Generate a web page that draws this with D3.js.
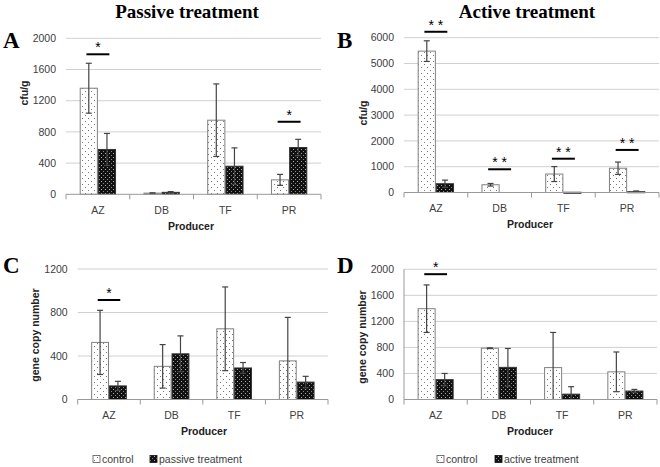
<!DOCTYPE html>
<html>
<head>
<meta charset="utf-8">
<script src="https://cdn.jsdelivr.net/npm/d3@7"></script>
<style>
  body { margin: 0; background: #fff; }
  svg { display: block; }
  .tick-label { font-family: "Liberation Sans", Arial, sans-serif; font-size: 10.5px; fill: #404040; }
  .axis-title { font-family: "Liberation Sans", Arial, sans-serif; font-size: 10.5px; font-weight: bold; fill: #222; }
  .panel-title { font-family: "Liberation Serif", "Times New Roman", serif; font-size: 19px; font-weight: bold; fill: #000; }
  .panel-letter { font-family: "Liberation Serif", "Times New Roman", serif; font-size: 23px; font-weight: bold; fill: #000; }
  .sig { font-family: "Liberation Sans", Arial, sans-serif; font-size: 14px; fill: #000; }
</style>
</head>
<body>
<svg id="chart" width="660" height="467"></svg>
<script>
// Categories and series values
const producers = ["AZ", "DB", "TF", "PR"];

// A: passive treatment, cfu/g
const passiveCfuControl = [1360, 15, 950, 185];
const passiveCfuControlErr = [320, 4, 465, 70];
const passiveCfuTreated = [575, 25, 360, 600];
const passiveCfuTreatedErr = [205, 10, 235, 105];

// B: active treatment, cfu/g
const activeCfuControl = [5480, 300, 715, 940];
const activeCfuControlErr = [400, 50, 290, 240];
const activeCfuTreated = [340, 0, 10, 30];
const activeCfuTreatedErr = [140, 0, 0, 30];

// C: passive treatment, gene copy number
const passiveGeneControl = [525, 305, 650, 355];
const passiveGeneControlErr = [295, 200, 385, 400];
const passiveGeneTreated = [125, 420, 290, 160];
const passiveGeneTreatedErr = [42, 165, 50, 53];

// D: active treatment, gene copy number
const activeGeneControl = [1395, 788, 490, 425];
const activeGeneControlErr = [365, 6, 540, 305];
const activeGeneTreated = [305, 494, 82, 130];
const activeGeneTreatedErr = [95, 290, 115, 25];

// Significance markers (level in data units)
const sigA = [{ producer: "AZ", level: 1795, mark: "*" }, { producer: "PR", level: 930, mark: "*" }];
const sigB = [
    { producer: "AZ", level: 6230, mark: "* *" },
    { producer: "DB", level: 900, mark: "* *" },
    { producer: "TF", level: 1310, mark: "* *" },
    { producer: "PR", level: 1650, mark: "* *" }
];
const sigC = [{ producer: "AZ", level: 915, mark: "*" }];
const sigD = [{ producer: "AZ", level: 1925, mark: "*" }];

const svg = d3.select("#chart");

// Dotted fills
const defs = svg.append("defs");
const dotLight = defs.append("pattern")
    .attr("id", "dotLight").attr("patternUnits", "userSpaceOnUse")
    .attr("width", 6).attr("height", 6);
dotLight.append("rect").attr("width", 6).attr("height", 6).attr("fill", "#fff");
dotLight.append("rect").attr("x", 1).attr("y", 1).attr("width", 1).attr("height", 1).attr("fill", "#777");
dotLight.append("rect").attr("x", 4).attr("y", 4).attr("width", 1).attr("height", 1).attr("fill", "#777");

const dotDark = defs.append("pattern")
    .attr("id", "dotDark").attr("patternUnits", "userSpaceOnUse")
    .attr("width", 4).attr("height", 4);
dotDark.append("rect").attr("width", 4).attr("height", 4).attr("fill", "#111");
dotDark.append("rect").attr("x", 1).attr("y", 1).attr("width", 1).attr("height", 1).attr("fill", "#aaa");
dotDark.append("rect").attr("x", 3).attr("y", 3).attr("width", 1).attr("height", 1).attr("fill", "#888");

function drawPanel(cfg) {
    const g = svg.append("g");

    const x = d3.scaleBand().domain(producers).range([cfg.left, cfg.right]).padding(0);
    const y = d3.scaleLinear().domain([0, cfg.yMax]).range([cfg.bottom, cfg.top]);
    const ticks = d3.range(0, cfg.yMax + 1, cfg.yStep);

    // Gridlines
    g.selectAll(".grid").data(ticks.filter(t => t > 0)).enter()
        .append("line")
        .attr("x1", cfg.left).attr("x2", cfg.right)
        .attr("y1", d => y(d)).attr("y2", d => y(d))
        .attr("stroke", "#d0d0d0").attr("stroke-width", 1);

    // Y tick labels
    g.selectAll(".ytick").data(ticks).enter()
        .append("text")
        .attr("class", "tick-label")
        .attr("x", cfg.left - 10)
        .attr("y", d => y(d))
        .attr("dy", "0.35em")
        .attr("text-anchor", "end")
        .text(d => d);

    if (cfg.yAxisLine) {
        g.append("line")
            .attr("x1", cfg.left).attr("x2", cfg.left)
            .attr("y1", cfg.top).attr("y2", cfg.bottom)
            .attr("stroke", "#999");
    }

    // Bars
    const groupW = x.bandwidth() * 0.57;
    const barW = groupW / 2;
    const series = [
        { values: cfg.control, errs: cfg.controlErr, fill: "url(#dotLight)", stroke: "#808080", off: 0 },
        { values: cfg.treated, errs: cfg.treatedErr, fill: "url(#dotDark)", stroke: "#333", off: 1 }
    ];

    series.forEach(s => {
        const rows = producers.map((p, i) => ({ p, v: s.values[i], e: s.errs[i] }));
        const bx = d => x(d.p) + (x.bandwidth() - groupW) / 2 + s.off * barW;

        g.selectAll(null).data(rows.filter(d => d.v > 0)).enter()
            .append("rect")
            .attr("x", d => bx(d) + 0.5)
            .attr("y", d => y(d.v))
            .attr("width", barW - 1)
            .attr("height", d => Math.max(1, y(0) - y(d.v)))
            .attr("fill", s.fill)
            .attr("stroke", s.stroke)
            .attr("stroke-width", 1);

        // Error bars
        const withErr = rows.filter(d => d.e > 0);
        const cx = d => bx(d) + barW / 2;
        g.selectAll(null).data(withErr).enter()
            .append("line")
            .attr("x1", cx).attr("x2", cx)
            .attr("y1", d => y(d.v + d.e))
            .attr("y2", d => y(Math.max(0, d.v - d.e)))
            .attr("stroke", "#444").attr("stroke-width", 1.2);
        g.selectAll(null).data(withErr).enter()
            .append("line")
            .attr("x1", d => cx(d) - 3).attr("x2", d => cx(d) + 3)
            .attr("y1", d => y(d.v + d.e)).attr("y2", d => y(d.v + d.e))
            .attr("stroke", "#444").attr("stroke-width", 1.2);
        g.selectAll(null).data(withErr.filter(d => d.v - d.e > 0)).enter()
            .append("line")
            .attr("x1", d => cx(d) - 3).attr("x2", d => cx(d) + 3)
            .attr("y1", d => y(d.v - d.e)).attr("y2", d => y(d.v - d.e))
            .attr("stroke", "#444").attr("stroke-width", 1.2);
    });

    // X baseline and ticks at band boundaries
    g.append("line")
        .attr("x1", cfg.left).attr("x2", cfg.right)
        .attr("y1", y(0)).attr("y2", y(0))
        .attr("stroke", "#999");
    const bounds = producers.map(p => x(p)).concat([cfg.right]);
    g.selectAll(null).data(bounds).enter()
        .append("line")
        .attr("x1", d => d).attr("x2", d => d)
        .attr("y1", y(0)).attr("y2", y(0) + 5)
        .attr("stroke", "#999");

    g.selectAll(null).data(producers).enter()
        .append("text")
        .attr("class", "tick-label")
        .attr("x", d => x(d) + x.bandwidth() / 2)
        .attr("y", y(0) + 16)
        .attr("dy", "0.35em")
        .attr("text-anchor", "middle")
        .text(d => d);

    g.append("text")
        .attr("class", "axis-title")
        .attr("x", cfg.xTitleX)
        .attr("y", y(0) + 32)
        .attr("dy", "0.35em")
        .attr("text-anchor", "middle")
        .text("Producer");

    g.append("text")
        .attr("class", "axis-title")
        .attr("transform", `translate(${cfg.yTitleX}, ${cfg.yTitleY}) rotate(-90)`)
        .attr("dy", "0.35em")
        .attr("text-anchor", "middle")
        .text(cfg.yTitle);

    // Significance brackets
    const sigW = x.bandwidth() * 0.36;
    cfg.sig.forEach(s => {
        const c = x(s.producer) + x.bandwidth() / 2;
        g.append("line")
            .attr("x1", c - sigW / 2).attr("x2", c + sigW / 2)
            .attr("y1", y(s.level)).attr("y2", y(s.level))
            .attr("stroke", "#000").attr("stroke-width", 2);
        g.append("text")
            .attr("class", "sig")
            .attr("x", c)
            .attr("y", y(s.level) - 2)
            .attr("text-anchor", "middle")
            .text(s.mark);
    });

    // Panel letter
    g.append("text")
        .attr("class", "panel-letter")
        .attr("x", cfg.letterX)
        .attr("y", cfg.letterY)
        .text(cfg.letter);

    // Legend
    if (cfg.legend) {
        const lg = g.append("g").attr("transform", `translate(${cfg.legend.x}, ${cfg.legend.y})`);
        const items = [
            { label: "control", fill: "url(#dotLight)", stroke: "#555", dx: 0 },
            { label: cfg.legend.treatedLabel, fill: "url(#dotDark)", stroke: "#111", dx: cfg.legend.gap }
        ];
        items.forEach(it => {
            lg.append("rect")
                .attr("x", it.dx).attr("y", -3.5)
                .attr("width", 7).attr("height", 7)
                .attr("fill", it.fill).attr("stroke", it.stroke).attr("stroke-width", 0.8);
            lg.append("text")
                .attr("class", "tick-label")
                .attr("x", it.dx + 9)
                .attr("y", 0)
                .attr("dy", "0.35em")
                .text(it.label);
        });
    }
}

// Column titles
svg.append("text").attr("class", "panel-title")
    .attr("x", 187).attr("y", 18).attr("text-anchor", "middle").text("Passive treatment");
svg.append("text").attr("class", "panel-title")
    .attr("x", 527).attr("y", 18).attr("text-anchor", "middle").text("Active treatment");

drawPanel({
    left: 66, right: 321, top: 38.3, bottom: 194.3, yMax: 2000, yStep: 400,
    control: passiveCfuControl, controlErr: passiveCfuControlErr,
    treated: passiveCfuTreated, treatedErr: passiveCfuTreatedErr,
    yTitle: "cfu/g", yTitleX: 24, yTitleY: 93, xTitleX: 191,
    sig: sigA, letter: "A", letterX: 3, letterY: 48
});

drawPanel({
    left: 404, right: 659, top: 37.7, bottom: 192.5, yMax: 6000, yStep: 1000,
    control: activeCfuControl, controlErr: activeCfuControlErr,
    treated: activeCfuTreated, treatedErr: activeCfuTreatedErr,
    yTitle: "cfu/g", yTitleX: 363, yTitleY: 113, xTitleX: 530,
    sig: sigB, letter: "B", letterX: 337, letterY: 48
});

drawPanel({
    left: 77.7, right: 328, top: 269, bottom: 399.5, yMax: 1200, yStep: 400,
    control: passiveGeneControl, controlErr: passiveGeneControlErr,
    treated: passiveGeneTreated, treatedErr: passiveGeneTreatedErr,
    yTitle: "gene copy number", yTitleX: 35, yTitleY: 335, xTitleX: 204,
    sig: sigC, letter: "C", letterX: 3, letterY: 273,
    legend: { x: 93, y: 459, gap: 57, treatedLabel: "passive treatment" }
});

drawPanel({
    left: 404, right: 657, top: 269.3, bottom: 399.5, yMax: 2000, yStep: 400,
    control: activeGeneControl, controlErr: activeGeneControlErr,
    treated: activeGeneTreated, treatedErr: activeGeneTreatedErr,
    yTitle: "gene copy number", yTitleX: 362, yTitleY: 337, xTitleX: 530,
    sig: sigD, letter: "D", letterX: 337, letterY: 273, yAxisLine: true,
    legend: { x: 437, y: 459, gap: 58, treatedLabel: "active treatment" }
});
</script>
</body>
</html>
